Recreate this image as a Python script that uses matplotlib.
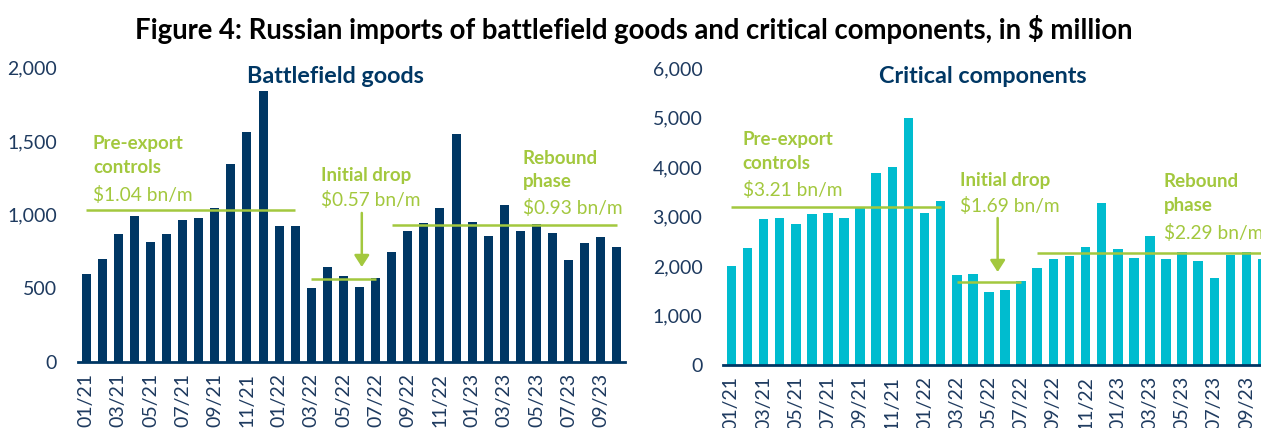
import matplotlib

matplotlib.use("Agg")
import matplotlib.pyplot as plt

plt.rcParams["font.family"] = ["Lato", "DejaVu Sans"]

NAVY = "#003764"
TEAL = "#00BCCF"
GREEN = "#A3C83E"
TICK = "#1E3A5F"

months = [
    "01/21", "02/21", "03/21", "04/21", "05/21", "06/21", "07/21", "08/21",
    "09/21", "10/21", "11/21", "12/21", "01/22", "02/22", "03/22", "04/22",
    "05/22", "06/22", "07/22", "08/22", "09/22", "10/22", "11/22", "12/22",
    "01/23", "02/23", "03/23", "04/23", "05/23", "06/23", "07/23", "08/23",
    "09/23", "10/23",
]

battlefield = [
    594, 696, 866, 991, 816, 866, 964, 975, 1043, 1343, 1563, 1844,
    921, 925, 499, 646, 585, 508, 567, 744, 887, 941, 1046, 1547,
    948, 855, 1068, 889, 939, 878, 694, 807, 846, 780,
]

critical = [
    2003, 2367, 2960, 2974, 2859, 3055, 3068, 2974, 3176, 3884, 3999, 4997,
    3068, 3318, 1821, 1848, 1470, 1524, 1699, 1962, 2138, 2205, 2380, 3284,
    2347, 2158, 2610, 2144, 2279, 2097, 1753, 2218, 2279, 2138,
]

# phase averages drawn as horizontal lines (start index, end index, level)
bf_phases = [(0, 13, 1030), (14, 18, 562), (19, 33, 928)]
cc_phases = [(0, 13, 3196), (14, 18, 1672), (19, 33.6, 2266)]

bf_labels = ["Pre-export\ncontrols", "$1.04 bn/m", "Initial drop", "$0.57 bn/m",
             "Rebound\nphase", "$0.93 bn/m"]
cc_labels = ["Pre-export\ncontrols", "$3.21 bn/m", "Initial drop", "$1.69 bn/m",
             "Rebound\nphase", "$2.29 bn/m"]

W, H = 1261, 428
fig = plt.figure(figsize=(W / 100, H / 100), dpi=100)

BOLD = dict(fontsize=13.5, fontweight="bold", color=GREEN, ha="left", va="center",
            linespacing=1.45)
REG = dict(fontsize=13.8, color=GREEN, ha="left", va="center")


def px_axes(x0, y_top, x1, y_bot):
    return fig.add_axes([x0 / W, 1 - y_bot / H, (x1 - x0) / W, (y_bot - y_top) / H])


def style(ax, ymax, step):
    x = list(range(len(months)))
    ax.set_xlim(-0.5, len(months) - 0.5)
    ax.set_ylim(0, ymax)
    ax.set_yticks(range(0, ymax + 1, step))
    ax.set_yticklabels([f"{v:,}" for v in range(0, ymax + 1, step)])
    ax.set_xticks(x[::2])
    ax.set_xticklabels(months[::2], rotation=90)
    for s in ["top", "right", "left"]:
        ax.spines[s].set_visible(False)
    ax.spines["bottom"].set_color(NAVY)
    ax.spines["bottom"].set_linewidth(2)
    ax.tick_params(axis="both", length=0, labelsize=14, colors=TICK)
    ax.tick_params(axis="y", pad=15)
    ax.tick_params(axis="x", pad=8)


def phases(ax, lines):
    for start, end, level in lines:
        ax.plot([start, end], [level, level], color=GREEN, lw=1.8, solid_capstyle="butt",
                clip_on=False)


def arrow(ax, x, y0, y1):
    ax.annotate("", xy=(x, y1), xytext=(x, y0),
                arrowprops=dict(arrowstyle="-|>,head_width=0.45,head_length=0.7",
                                color=GREEN, lw=1.8, shrinkA=0, shrinkB=0))


# left panel
ax1 = px_axes(78, 67.7, 625, 361.7)
ax1.bar(range(len(months)), battlefield, width=0.56, color=NAVY)
style(ax1, 2000, 500)
phases(ax1, bf_phases)
ax1.text(15.5, 1937, "Battlefield goods", ha="center", va="center", fontsize=16.8,
         fontweight="bold", color=NAVY)
ax1.text(0.43, 1403, bf_labels[0], **BOLD)
ax1.text(0.43, 1134, bf_labels[1], **REG)
ax1.text(14.6, 1270, bf_labels[2], **BOLD)
ax1.text(14.6, 1100, bf_labels[3], **REG)
ax1.text(27.14, 1305, bf_labels[4], **BOLD)
ax1.text(27.14, 1046, bf_labels[5], **REG)
arrow(ax1, 17.14, 1012, 644)

# right panel
ax2 = px_axes(723.3, 68.3, 1270.7, 365)
ax2.bar(range(len(months)), critical, width=0.6, color=TEAL)
style(ax2, 6000, 1000)
phases(ax2, cc_phases)
ax2.text(15.6, 5844, "Critical components", ha="center", va="center", fontsize=16.8,
         fontweight="bold", color=NAVY)
ax2.text(0.70, 4318, cc_labels[0], **BOLD)
ax2.text(0.70, 3539, cc_labels[1], **REG)
ax2.text(14.18, 3741, cc_labels[2], **BOLD)
ax2.text(14.18, 3215, cc_labels[3], **REG)
ax2.text(26.86, 3468, cc_labels[4], **BOLD)
ax2.text(26.86, 2669, cc_labels[5], **REG)
arrow(ax2, 16.54, 2972, 1880)

fig.text(634 / W, 1 - 30 / H,
         "Figure 4: Russian imports of battlefield goods and critical components, in $ million",
         ha="center", va="center", fontsize=19.8, fontweight="bold", color="black")

fig.savefig("out.png", dpi=100)
